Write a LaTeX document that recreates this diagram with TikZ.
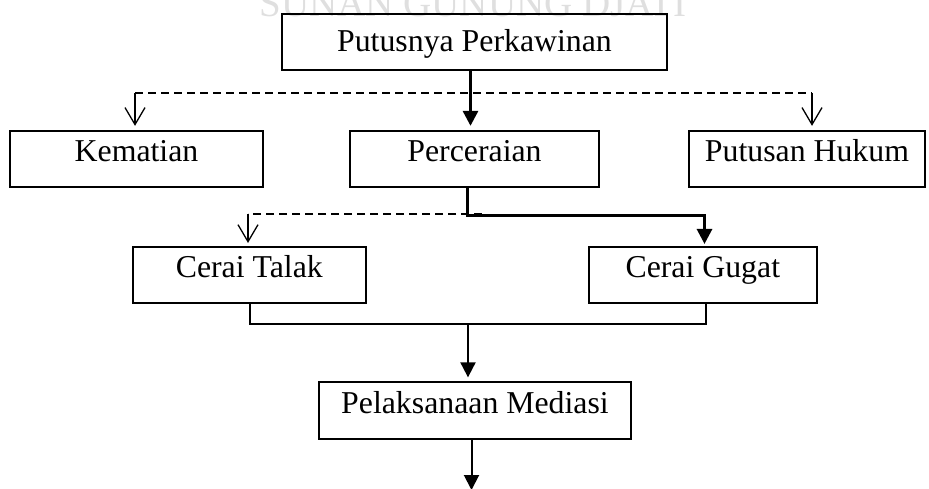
\documentclass[tikz,border=0pt]{standalone}
\usepackage{fontspec}
\setmainfont{Liberation Serif}
\usetikzlibrary{arrows.meta}
\begin{document}
\begin{tikzpicture}[x=1pt,y=-1pt,
  box/.style={draw,line width=1.7pt,inner sep=0pt,minimum height=56pt,
    font=\fontsize{31.8}{36}\selectfont,text height=25pt,text depth=20pt},
  thickarr/.style={line width=3pt,line join=miter,-{Triangle[length=15pt,width=15pt]}},
  thinarr/.style={line width=1.3pt,-{Straight Barb[length=17pt,width=20pt]}},
  dashline/.style={line width=1.3pt,dash pattern=on 8pt off 5pt},
  midline/.style={line width=2pt,line join=miter},
  midarr/.style={line width=2pt,-{Triangle[length=15pt,width=15pt]}},
  wmark/.style={text=gray!25,font=\fontsize{39}{40}\selectfont,anchor=base,inner sep=0pt}
]
\useasboundingbox (0,0) rectangle (929,489);
\begin{scope}
\clip (0,0) rectangle (929,489);
\node[wmark] (wm) at (473,17) {SUNAN GUNUNG DJATI};
\end{scope}

\node[box,minimum width=385pt,text height=32pt,text depth=12pt] (top) at (474.5,42) {Putusnya Perkawinan};
\node[box,minimum width=253pt] (kem) at (136.5,158.7) {Kematian};
\node[box,minimum width=249pt] (per) at (474.5,158.7) {Perceraian};
\node[box,minimum width=236pt] (put) at (807,158.7) {Putusan Hukum};
\node[box,minimum width=233pt] (talak) at (249.3,274.8) {Cerai Talak};
\node[box,minimum width=228pt] (gugat) at (702.8,274.8) {Cerai Gugat};
\node[box,minimum width=312pt,minimum height=57pt] (med) at (475,410.7) {Pelaksanaan Mediasi};

% first level
\coordinate (c1) at (470.5,93);
\coordinate (cL) at (135,93);
\coordinate (cR) at (812,93);
\draw[dashline] (cL) -- (cR);
\draw[thinarr,shorten >=4pt] (cL) -- (kem.north -| cL);
\draw[thinarr,shorten >=4pt] (cR) -- (put.north -| cR);
\draw[thickarr,shorten >=4pt] (top.south -| c1) -- (per.north -| c1);

% second level
\coordinate (c2) at (467.7,215.5);
\coordinate (g2) at (704.5,215.5);
\coordinate (t2) at (248,214);
\coordinate (d2) at (482,214);
\draw[dashline] (d2) -- (t2);
\draw[thinarr,shorten >=3pt] (t2) -- (talak.north -| t2);
\draw[thickarr,shorten >=2pt] (per.south -| c2) -- (c2) -- (g2) -- (gugat.north -| g2);

% merge
\coordinate (m1) at (250,323.5);
\coordinate (m2) at (705.7,323.5);
\coordinate (m3) at (468,323.5);
\draw[midline] (talak.south -| m1) -- (m1) -- (m2) -- (gugat.south -| m2);
\draw[midarr,shorten >=4pt] (m3) -- (med.north -| m3);
\coordinate (endp) at (471.5,490);
\draw[midarr] (med.south -| endp) -- (endp);
\end{tikzpicture}
\end{document}
